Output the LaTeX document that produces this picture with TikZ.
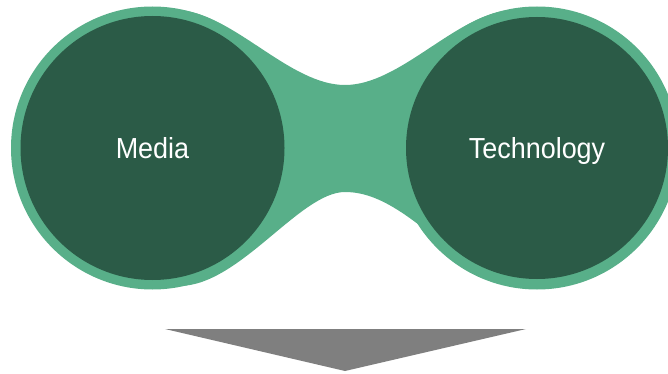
\documentclass[tikz,border=0pt]{standalone}
\usepackage{fontspec}
\setmainfont{Liberation Sans}
\newfontfamily\bubblefont{Liberation Sans}[FakeStretch=0.93]
\usepackage{tikz}
\usetikzlibrary{positioning}
\definecolor{ringgreen}{RGB}{88,175,137}
\definecolor{bubblegreen}{RGB}{43,91,71}
\definecolor{arrowgray}{RGB}{127,127,127}

\begin{document}
\begin{tikzpicture}[
      x=1pt, y=-1pt,
      ring/.style={fill=ringgreen},
      bubble/.style={circle, fill=bubblegreen, inner sep=0pt, minimum size=264pt,
        text=white, font=\bubblefont\fontsize{29}{34}\selectfont,
        text height=21pt, text depth=0pt}
    ]
      \useasboundingbox (0,0) rectangle (668,374);
      \clip (0,0) rectangle (668,374);
      \coordinate (mc) at (152.5,148);
      \coordinate (tc) at (537,148);
      % light green bridge between the two bubbles
      \fill[ring] (180,10) .. controls (235,15) and (290,85) .. (345,85)
        .. controls (400,85) and (455,15) .. (510,10)
        -- (480,275) .. controls (420,225) and (385,192) .. (345,192)
        .. controls (300,192) and (240,285) .. (180,286) -- cycle;
      \fill[ring] (mc) circle[radius=141.5pt];
      \fill[ring] (tc) circle[radius=141.5pt];
      \node[bubble] (media) at (mc) {Media};
      \node[bubble, minimum size=262pt] (tech) at (tc) {Technology};
      % downward arrow head
      \coordinate (al) at (165,329);
      \coordinate (ar) at (526,329);
      \coordinate (tip) at (345,371);
      \fill[arrowgray] (al) -- (ar) -- (tip) -- cycle;
    \end{tikzpicture}
\end{document}
